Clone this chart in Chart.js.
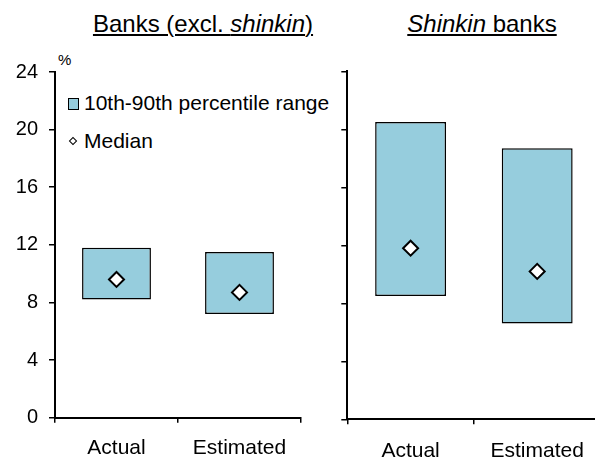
<!DOCTYPE html>
<html>
<head>
<meta charset="utf-8">
<script src="https://cdn.jsdelivr.net/npm/chart.js@4.4.1/dist/chart.umd.min.js"></script>
<style>
  body { margin: 0; width: 595px; height: 459px; overflow: hidden; background: #fff; position: relative;
         font-family: "Liberation Sans", Arial, sans-serif; color: #000; }
  canvas { position: absolute; top: 0; }
  #banksChart { left: 0; }
  #shinkinChart { left: 330px; }
  .title { position: absolute; top: 12px; font-size: 24px; line-height: 24px; white-space: nowrap;
           text-decoration: underline; text-decoration-thickness: 1.5px; text-underline-offset: 2px;
           transform: translateX(-50%); }
  .lbl { position: absolute; font-size: 21px; line-height: 21px; white-space: nowrap; }
  .swatch { position: absolute; left: 68px; top: 98px; width: 9px; height: 10px; background: #96cddd;
            border: 1.5px solid #000; }
  .diamond { position: absolute; left: 70px; top: 138px; width: 4px; height: 4px; background: #fff;
             border: 1.5px solid #000; transform: rotate(45deg); }
</style>
</head>
<body>
<div class="title" style="left:203px">Banks (excl. <i>shinkin</i>)</div>
<div class="title" style="left:482px"><i>Shinkin</i> banks</div>
<div class="lbl" style="left:58px; top:52px; font-size:15px; line-height:15px">%</div>
<div class="swatch"></div>
<div class="lbl" style="left:84px; top:92px">10th-90th percentile range</div>
<div class="diamond"></div>
<div class="lbl" style="left:84px; top:130px">Median</div>

<canvas id="banksChart" width="320" height="459"></canvas>
<canvas id="shinkinChart" width="280" height="459"></canvas>

<script>
// values, in %
const categories = ['Actual', 'Estimated'];
const banksRange = [[8.2, 11.8], [7.2, 11.5]];
const banksMedian = [9.6, 8.7];
const shinkinRange = [[8.5, 20.5], [6.6, 18.7]];
const shinkinMedian = [11.8, 10.2];
const yMin = 0;
const yMax = 24;
const yStep = 4;

Chart.defaults.font.family = "'Liberation Sans', Arial, sans-serif";
Chart.defaults.color = '#000';
Chart.defaults.animation = false;

function makeChart(id, range, median, cfg) {
  const ctx = document.getElementById(id).getContext('2d');
  return new Chart(ctx, {
    data: {
      labels: categories,
      datasets: [{
        type: 'bar',
        label: '10th-90th percentile range',
        data: range,
        order: 2,
        backgroundColor: '#96cddd',
        borderColor: '#000',
        borderWidth: 1.5,
        borderSkipped: false,
        categoryPercentage: 1,
        barPercentage: 0.56
      }, {
        type: 'line',
        label: 'Median',
        data: median,
        order: 1,
        showLine: false,
        pointStyle: 'rectRot',
        pointRadius: 7.5,
        pointBackgroundColor: '#fff',
        pointBorderColor: '#000',
        pointBorderWidth: 2
      }]
    },
    options: {
      responsive: false,
      maintainAspectRatio: false,
      layout: { padding: { top: cfg.top, right: cfg.right, left: 0, bottom: 0 } },
      plugins: { legend: { display: false }, tooltip: { enabled: false } },
      scales: {
        x: {
          grid: { offset: true, drawOnChartArea: false, drawTicks: true, tickLength: 5, color: '#000', lineWidth: 1.5 },
          border: { display: true, color: '#000', width: 2 },
          ticks: { font: { size: 21 }, padding: cfg.xPad, maxRotation: 0 },
          afterFit: s => { s.height = cfg.xHeight; }
        },
        y: {
          min: yMin, max: yMax,
          grid: { drawOnChartArea: false, drawTicks: true, tickLength: 6, color: '#000', lineWidth: 1.5 },
          border: { display: true, color: '#000', width: 2 },
          ticks: {
            stepSize: yStep, padding: 11, font: { size: 20 },
            callback: v => cfg.yLabels ? v : ''
          },
          afterFit: s => { s.width = cfg.yWidth; }
        }
      }
    }
  });
}

makeChart('banksChart', banksRange, banksMedian,
  { top: 72, right: 19, yWidth: 55, xHeight: 41.3, xPad: 13, yLabels: true });
makeChart('shinkinChart', shinkinRange, shinkinMedian,
  { top: 71.3, right: 4.7, yWidth: 17.3, xHeight: 39.7, xPad: 14, yLabels: false });
</script>
</body>
</html>
